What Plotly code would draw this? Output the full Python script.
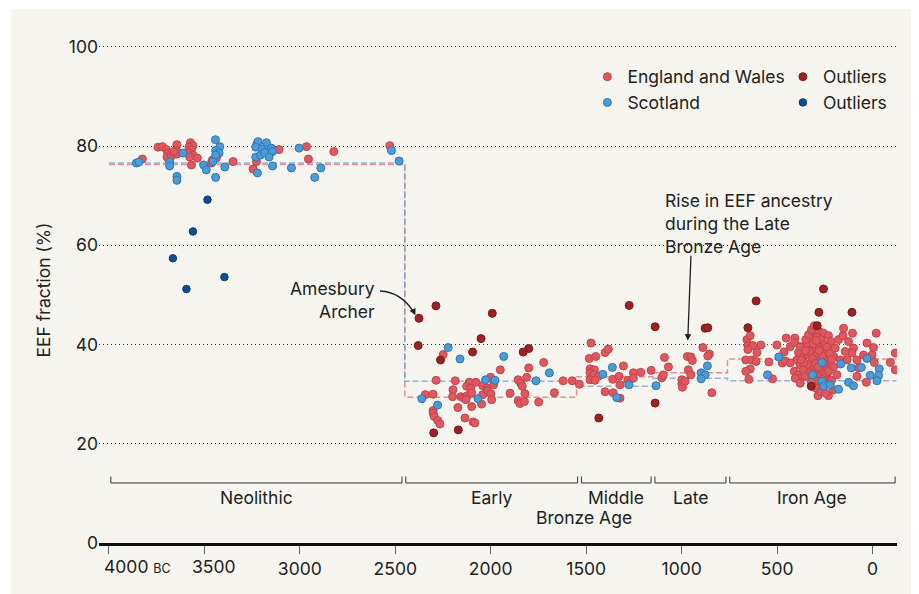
import plotly.graph_objects as go

# ---------------- data (years BC, EEF %) ----------------
ew_year = [3825, 3743, 3720, 3699, 3691, 3696, 3673, 3644, 3647, 3644, 3660, 3573, 3560, 3581, 3568, 3577,
           3560, 3577, 3537, 3568, 3458, 3437, 3463, 3350, 3245, 3227, 3224, 3109, 2965, 2955, 2822, 2529,
           2249, 1950, 1801, 1723, 1812, 2286, 2186, 2113, 2078, 2126, 2105, 2042, 2018, 2001, 1985, 2198,
           2200, 2156, 2141, 2123, 2100, 2130, 2042, 2016, 1999, 1995, 2048, 2100, 2172, 2135, 2092, 2083,
           2343, 2302, 2302, 2302, 2296, 2278, 2266, 1899, 1857, 1843, 1835, 1821, 1856, 1847, 1824, 1749,
           1667, 1621, 1573, 1536,
           1475, 1484, 1450, 1401, 1384, 1480, 1457, 1480, 1459, 1436, 1480, 1454, 1401, 1361, 1328, 1323,
           1305, 1359, 1323, 1282, 1253, 1253, 1214, 1160,
           1104, 1090, 1069, 1096, 999, 999, 996, 982, 970, 952, 944, 965, 952, 889, 855, 863, 842,
           658, 641, 653, 627, 606, 653, 664, 632, 610, 641, 664, 648, 585, 543, 524, 501, 464, 473, 452,
           431, 407, 409, 388, 379, 396, 379, 410, 388, 379, 362, 344, 327, 309, 300, 278, 257, 231, 218,
           265, 291, 318, 336, 291, 248, 239, 291, 318, 336, 309, 274, 239, 300, 274, 239, 204, 196, 178,
           152, 105, 155, 126, 100, 108, 143, 169, 134, 82, 73, 82, 187, 29, -5, -19, 47, 3, -9, 33, -93,
           -119, -119, 286, 231, 283, 204, 257, 362, 353, 405, 379, 458, 431,
           350, 335, 320, 305, 290, 270, 250, 240, 225, 215, 205, 330, 315, 300, 285, 265, 255, 245, 280,
           310, 295, 340, 350, 325, 290, 265, 230, 215, 300, 270, 245, 320, 360, 375]
ew_eef = [77.4, 79.8, 79.9, 79.3, 78.6, 77.8, 78.0, 80.3, 79.1, 78.4, 78.9, 80.7, 80.1, 79.8, 79.3, 78.6,
          78.2, 77.8, 77.6, 76.2, 77.2, 77.6, 76.6, 76.9, 75.4, 76.9, 80.5, 79.3, 79.9, 77.4, 78.9, 80.1,
          38.0, 34.9, 35.3, 36.4, 33.4, 32.8, 32.7, 32.4, 32.4, 31.6, 31.2, 31.7, 31.2, 33.4, 31.9, 30.9,
          29.5, 29.5, 29.2, 29.7, 30.3, 28.9, 29.9, 30.7, 30.1, 28.9, 28.0, 27.5, 27.3, 25.2, 24.4, 24.2,
          29.9, 30.0, 26.7, 26.2, 25.5, 24.7, 24.0, 30.2, 32.9, 32.2, 31.6, 30.1, 28.7, 28.1, 28.5, 28.4,
          30.3, 32.7, 32.7, 32.0,
          40.3, 37.2, 37.6, 38.4, 39.1, 35.1, 34.9, 34.3, 33.9, 33.6, 32.9, 32.8, 30.5, 33.0, 33.6, 31.9,
          35.7, 30.3, 29.2, 32.8, 34.3, 33.2, 34.4, 34.8,
          33.3, 37.4, 35.5, 33.9, 32.9, 32.1, 31.4, 32.6, 37.6, 37.5, 36.8, 34.9, 33.9, 39.4, 38.1, 37.7, 30.3,
          41.0, 41.8, 39.8, 39.8, 38.4, 39.0, 36.9, 36.9, 36.6, 35.1, 34.6, 33.0, 39.9, 36.5, 33.1, 39.9, 38.5, 36.3, 41.3,
          39.6, 41.3, 40.4, 38.4, 39.6, 36.9, 35.9, 34.6, 33.9, 33.2, 37.6, 40.3, 41.8, 41.0, 42.6, 42.6, 42.3, 41.8, 40.6,
          40.3, 39.6, 39.0, 37.9, 37.9, 38.6, 36.9, 36.6, 35.9, 35.3, 34.9, 34.9, 35.3, 33.9, 33.6, 33.6, 37.6, 39.3, 41.0,
          43.3, 42.3, 41.8, 40.6, 39.3, 38.3, 38.6, 36.9, 36.9, 36.9, 35.3, 33.6, 33.9, 40.3, 39.4, 42.3, 37.9, 37.9, 36.4, 32.4, 36.4,
          38.3, 34.9, 29.7, 29.7, 31.1, 30.9, 33.2, 34.9, 33.6, 33.2, 32.2, 36.7, 36.3,
          41.0, 42.0, 43.0, 43.8, 41.5, 41.0, 40.0, 39.5, 38.2, 37.0, 35.5, 38.6, 37.2, 36.2, 35.5, 37.8, 36.2, 34.2, 38.8,
          40.2, 40.8, 36.0, 38.8, 34.3, 32.6, 33.0, 34.6, 32.8, 31.3, 30.5, 30.2, 32.5, 36.4, 37.0]

sc_year = [3856, 3843, 3682, 3682, 3644, 3644, 3612, 3504, 3490, 3455, 3442, 3419, 3441, 3423, 3441, 3441,
           3393, 3219, 3231, 3231, 3206, 3196, 3175, 3184, 3149, 3143, 3161, 3222, 3143, 3044, 3004, 2922,
           2890, 2520, 2480,
           2223, 2161, 1932, 1693, 2027, 1978, 1763, 2361, 2278, 2067, 1413, 1363, 1276, 1340, 1134, 898,
           865, 877, 898,
           550, 491, 265, 166, 112, 59, 29, -35, -32, 12, -23, 314, 265, 257, 222, 178, 126, 100]
sc_eef = [76.6, 76.8, 76.8, 76.0, 73.9, 73.1, 78.6, 76.2, 75.2, 76.9, 81.3, 79.9, 79.1, 78.6, 78.2, 73.7,
          75.8, 80.9, 79.8, 77.8, 78.2, 79.4, 80.7, 78.7, 79.6, 78.9, 77.8, 74.6, 76.0, 75.6, 79.6, 73.7,
          75.6, 79.1, 77.0,
          39.4, 37.1, 37.6, 34.3, 32.9, 32.8, 32.7, 29.1, 27.8, 29.1, 34.0, 35.4, 31.9, 29.3, 31.7, 34.3,
          35.7, 33.9, 33.1,
          33.9, 37.5, 36.4, 36.1, 35.3, 35.4, 37.2, 35.1, 33.8, 33.8, 32.7, 33.9, 32.6, 31.6, 31.9, 31.0, 32.4, 31.7]

ew_out_year = [2376, 2287, 1992, 2051, 2380, 2095, 2263, 1830, 1801, 2299, 2170, 1275, 1139, 877, 863,
               1139, 1434, 610, 257, 281, 108, 653, 290, 321]
ew_out_eef = [45.3, 47.8, 46.3, 41.2, 39.8, 38.5, 36.9, 38.5, 39.2, 22.2, 22.8, 47.9, 43.6, 43.3, 43.4,
              28.2, 25.2, 48.8, 51.2, 46.5, 46.5, 43.4, 43.8, 31.6]

sc_out_year = [3484, 3560, 3665, 3395, 3594]
sc_out_eef = [69.2, 62.8, 57.4, 53.6, 51.2]

# period mean step lines (value holds until next boundary)
step_year = [4000, 2450, 1550, 1150, 760, -125]
ew_mean = [76.3, 29.4, 33.5, 34.3, 37.1, 37.1]
sc_mean = [76.6, 32.6, 31.6, 33.2, 32.7, 32.7]

# periods shown under the data
period_names = ["Neolithic", "Early", "Middle", "Late", "Iron Age"]
period_start = [4000, 2455, 1535, 1150, 758]
period_end = [2455, 1535, 1150, 758, -128]

x_ticks = [4000, 3500, 3000, 2500, 2000, 1500, 1000, 500, 0]
y_ticks = [0, 20, 40, 60, 80, 100]

# ---------------- styling ----------------
FONT = "Inter, Roboto, sans-serif"
TXT = "#222222"
BG = "#f6f5ef"
EW_FILL, EW_LINE = "#e0575d", "#c2444b"
SC_FILL, SC_LINE = "#4d9bd6", "#2b77b4"
EWO_FILL, EWO_LINE = "#9b2222", "#7c1a1a"
SCO_FILL, SCO_LINE = "#104d8c", "#0b3b6e"

fig = go.Figure()

fig.add_trace(go.Scatter(x=step_year, y=ew_mean, mode="lines", line_shape="hv",
                         line=dict(color="rgba(226,110,116,0.75)", width=1.5, dash="6px,3px"),
                         showlegend=False, hoverinfo="skip"))
fig.add_trace(go.Scatter(x=step_year, y=sc_mean, mode="lines", line_shape="hv",
                         line=dict(color="rgba(110,160,210,0.75)", width=1.5, dash="6px,3px"),
                         showlegend=False, hoverinfo="skip"))

fig.add_trace(go.Scatter(x=ew_year, y=ew_eef, mode="markers", name="England and Wales", legend="legend",
                         marker=dict(size=8, color=EW_FILL, line=dict(color=EW_LINE, width=1))))
fig.add_trace(go.Scatter(x=sc_year, y=sc_eef, mode="markers", name="Scotland", legend="legend",
                         marker=dict(size=8, color=SC_FILL, line=dict(color=SC_LINE, width=1))))
fig.add_trace(go.Scatter(x=ew_out_year, y=ew_out_eef, mode="markers", name="Outliers", legend="legend2",
                         marker=dict(size=8, color=EWO_FILL, line=dict(color=EWO_LINE, width=1))))
fig.add_trace(go.Scatter(x=sc_out_year, y=sc_out_eef, mode="markers", name="Outliers", legend="legend2",
                         marker=dict(size=7.5, color=SCO_FILL, line=dict(color=SCO_LINE, width=1))))

shapes = []
# beige panel (white strip on top/left of the picture)
shapes.append(dict(type="rect", xref="paper", yref="paper", x0=-0.1103, x1=1.2, y0=-0.3, y1=1.0553,
                   fillcolor=BG, line=dict(width=0), layer="below"))
# period brackets
for s, e in zip(period_start, period_end):
    shapes.append(dict(type="path", xref="x", yref="y",
                       path=f"M {s - 10},13.4 L {s - 10},12.1 L {e + 10},12.1 L {e + 10},13.4",
                       line=dict(color="#333333", width=1)))
# curved arrow for Amesbury Archer
shapes.append(dict(type="path", xref="x", yref="y",
                   path="M 2580,50.8 Q 2470,50.6 2405,46.6",
                   line=dict(color="#222222", width=1.3)))

annotations = []
for name, s, e in zip(period_names, period_start, period_end):
    annotations.append(dict(x=(s + e) / 2, y=9.1, xref="x", yref="y", text=name, showarrow=False,
                            font=dict(size=17.5, color=TXT, family=FONT), xanchor="center", yanchor="middle"))
annotations.append(dict(x=1510, y=5.1, xref="x", yref="y", text="Bronze Age", showarrow=False,
                        font=dict(size=17.5, color=TXT, family=FONT), xanchor="center", yanchor="middle"))
# first x tick labels (offset as in the original)
annotations.append(dict(x=x_ticks[0], y=0, xref="x", yref="y", xanchor="left", yanchor="middle",
                        xshift=-7, yshift=-23.5, showarrow=False,
                        text="4000 <span style='font-size:12.5px'>BC</span>",
                        font=dict(size=17.5, color=TXT, family=FONT)))
annotations.append(dict(x=x_ticks[1], y=0, xref="x", yref="y", xanchor="center", yanchor="middle",
                        xshift=10, yshift=-23.5, showarrow=False, text=str(x_ticks[1]),
                        font=dict(size=17.5, color=TXT, family=FONT)))
# Amesbury Archer
annotations.append(dict(x=2597, y=49.0, xref="x", yref="y", text="Amesbury<br>Archer", align="right",
                        xanchor="right", yanchor="middle", showarrow=False,
                        font=dict(size=17.5, color=TXT, family=FONT)))
annotations.append(dict(x=2395, y=45.9, ax=2412, ay=47.3, axref="x", ayref="y", xref="x", yref="y",
                        text="", showarrow=True, arrowhead=2, arrowsize=1, arrowwidth=1.3,
                        arrowcolor="#222222"))
# Late Bronze Age rise
annotations.append(dict(x=1097, y=64.4, xref="x", yref="y",
                        text="Rise in EEF ancestry<br>during the Late<br>Bronze Age", align="left",
                        xanchor="left", yanchor="middle", showarrow=False,
                        font=dict(size=17.5, color=TXT, family=FONT)))
annotations.append(dict(x=968, y=40.8, ax=951, ay=58.2, axref="x", ayref="y", xref="x", yref="y",
                        text="", showarrow=True, arrowhead=2, arrowsize=1, arrowwidth=1.3,
                        arrowcolor="#222222"))

x_text = ["", ""] + [str(v) for v in x_ticks[2:]]

fig.update_layout(
    width=919, height=594,
    margin=dict(l=91, r=30, t=29, b=59),
    paper_bgcolor="white", plot_bgcolor="rgba(0,0,0,0)",
    font=dict(family=FONT, size=17.5, color=TXT),
    shapes=shapes, annotations=annotations,
    xaxis=dict(range=[4052, -128], tickvals=x_ticks, ticktext=x_text, showgrid=False, zeroline=False,
               showline=True, linecolor="#111111", linewidth=2.5, ticks="outside", ticklen=8, tickwidth=1,
               tickcolor="#666666", tickfont=dict(size=17.5, color=TXT, family=FONT)),
    yaxis=dict(range=[0, 102], tickvals=y_ticks, showgrid=True, gridcolor="#333333", gridwidth=1,
               griddash="1px,3px", zeroline=False, showline=False, ticks="",
               tickfont=dict(size=17.5, color=TXT, family=FONT),
               title=dict(text="EEF fraction (%)", font=dict(size=17.5, color=TXT, family=FONT), standoff=13)),
    legend=dict(x=0.612, y=0.957, xanchor="left", yanchor="top", bgcolor="rgba(0,0,0,0)",
                font=dict(size=17.5, color=TXT, family=FONT), tracegroupgap=0),
    legend2=dict(x=0.857, y=0.957, xanchor="left", yanchor="top", bgcolor="rgba(0,0,0,0)",
                 font=dict(size=17.5, color=TXT, family=FONT), tracegroupgap=0),
    hovermode=False,
)

fig.write_html("out.html")
